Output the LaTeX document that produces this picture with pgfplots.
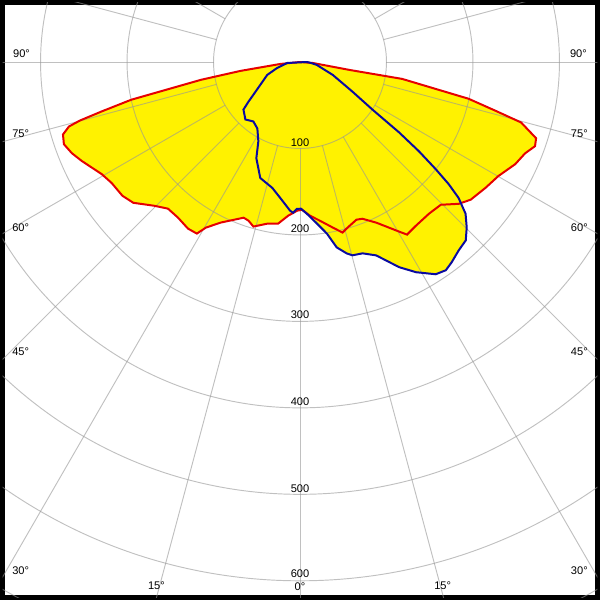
\documentclass[border=0pt]{standalone}
\usepackage{fontspec}
\setmainfont{Liberation Sans}
\usepackage{pgfplots}
\pgfplotsset{compat=1.18}
\usepackage{pgfplotstable}
\definecolor{curveRed}{RGB}{230,0,0}
\definecolor{curveBlue}{RGB}{10,10,160}
\definecolor{gridGray}{RGB}{150,150,150}

% gamma (deg, 0 = down) and intensity (cd) to x/y in the picture
\pgfplotsset{
  /pgfplots/table/cdxy/.style={
    x expr={\thisrow{I}*sin(\thisrow{g})},
    y expr={-\thisrow{I}*cos(\thisrow{g})},
  },
}
\tikzset{lbl/.style={font=\fontsize{5.3}{6}\selectfont, inner sep=0pt}}

% C0-C180 plane: gamma (deg, negative = left side), intensity (cd)
\pgfplotstableread{
g I
-90 0
-84.3 23.0
-81.5 69.6
-79.8 116.5
-77.4 199.8
-76.0 236.4
-75.1 263.4
-74.4 277.4
-73.0 286.6
-70.8 289.1
-68.2 284.1
-65.6 277.1
-60.5 263.4
-57.3 258.9
-53.0 257.1
-49.8 252.3
-45.4 236.8
-42.0 228.2
-38.1 228.7
-33.9 232.2
-31.0 231.5
-29.6 220.3
-26.3 207.2
-19.9 191.5
-18.0 192.9
-15.8 197.8
-11.4 190.7
-7.7 188.6
-4.4 178.3
-1.1 172.0
0.8 170.9
3.7 178.1
7.1 184.9
11.2 195.2
14.0 203.3
16.0 199.3
19.7 193.7
21.7 195.1
25.4 205.7
30.3 227.2
31.8 234.9
35.3 232.0
40.4 230.3
44.6 231.9
48.2 246.1
51.1 253.6
55.8 259.2
60.1 264.6
64.6 275.5
67.9 280.9
70.3 288.7
72.1 286.9
74.7 265.1
76.0 232.8
77.7 199.5
80.6 119.7
80.9 58.1
85.6 15.0
90 0
}\redtab

% C90-C270 plane
\pgfplotstableread{
g I
90 8.0
85.0 12.5
80.0 19.8
68.5 40.7
60.5 69.8
56.7 100.2
54.6 140.6
53.1 172.0
51.7 200.0
50.6 222.5
49.4 241.5
47.5 259.7
45.2 271.7
42.9 281.6
40.1 284.9
37.1 290.6
35.0 294.0
32.6 291.4
28.9 277.7
25.8 263.6
21.5 240.4
18.1 232.8
15.2 231.7
13.7 227.8
11.2 218.6
8.9 200.8
6.0 187.9
2.6 175.7
0.4 169.7
-1.2 169.8
-2.6 174.5
-3.8 172.4
-8.3 158.8
-12.4 149.1
-18.9 141.8
-24.4 122.2
-27.7 103.6
-32.7 91.3
-38.1 87.4
-43.5 91.7
-49.9 85.5
-52.4 75.2
-54.9 65.9
-68.5 40.7
-75.4 27.3
-85.6 15.0
90 8.0
}\bluetab

\begin{document}
\begin{tikzpicture}
\begin{axis}[
  width=10cm, height=10cm, scale only axis,
  xmin=-344, xmax=344, ymin=-619.3, ymax=68.8,
  xtick=\empty, ytick=\empty,
  axis line style={black, line width=2.4pt},
]
\addplot[fill=yellow, draw=none] table[cdxy] {\redtab} -- cycle;
\addplot[fill=yellow, draw=none] table[cdxy] {\bluetab} -- cycle;

% grid
\pgfplotsinvokeforeach{100,200,...,700}{
  \draw[gridGray, opacity=0.6, line width=0.45pt] (axis cs:0,0) circle[radius=#1];
}
\pgfplotsinvokeforeach{-180,-165,...,180}{
  \draw[gridGray, opacity=0.6, line width=0.45pt]
    (axis cs:{100*sin(#1)},{-100*cos(#1)}) -- (axis cs:{1000*sin(#1)},{-1000*cos(#1)});
}

\addplot[curveRed, line width=0.95pt] table[cdxy] {\redtab};
\addplot[curveBlue, line width=0.95pt] table[cdxy] {\bluetab};

% angle labels
\node[lbl] at (axis cs:-322,9.2) {90°};
\node[lbl] at (axis cs:322,9.2) {90°};
\node[lbl] at (axis cs:-323,-82.6) {75°};
\node[lbl] at (axis cs:323,-82.6) {75°};
\node[lbl] at (axis cs:-323,-191.5) {60°};
\node[lbl] at (axis cs:323,-191.5) {60°};
\node[lbl] at (axis cs:-323,-334.9) {45°};
\node[lbl] at (axis cs:323,-334.9) {45°};
\node[lbl] at (axis cs:-323,-588.3) {30°};
\node[lbl] at (axis cs:323,-588.3) {30°};
\node[lbl] at (axis cs:-166,-605.5) {15°};
\node[lbl] at (axis cs:165,-605.5) {15°};
\node[lbl] at (axis cs:0,-606.5) {0°};
% intensity labels
\node[lbl] at (axis cs:0,-92.9) {100};
\node[lbl] at (axis cs:0,-192.7) {200};
\node[lbl] at (axis cs:0,-292.4) {300};
\node[lbl] at (axis cs:0,-393.3) {400};
\node[lbl] at (axis cs:0,-493.1) {500};
\node[lbl] at (axis cs:0,-591.5) {600};
\end{axis}
\end{tikzpicture}
\end{document}
